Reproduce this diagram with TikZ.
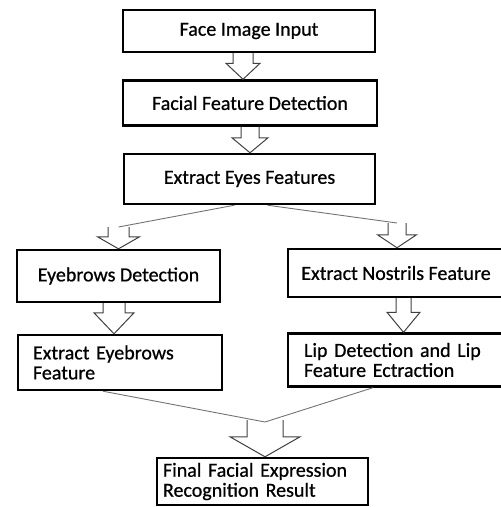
\documentclass[tikz,border=0pt]{standalone}
\usepackage{fontspec}
\setmainfont{Carlito}
\usepackage{tikz}
\usetikzlibrary{calc}

\tikzset{
  box/.style={draw, rectangle, line width=2.4pt, inner sep=0pt,
    font=\fontsize{20}{20}\selectfont\addfontfeature{FakeBold=0.7}},
  leftbox/.style={box, align=left, text width=#1},
  link/.style={draw=black!55, line width=0.9pt},
  hollow/.style args={#1/#2/#3}{draw=black!75, line width=1pt, line join=miter,
    to path={let \p1=(\tikztostart), \p2=(\tikztotarget) in
      (\x1-#1,\y1) -- (\x1-#1,\y2+#3) -- (\x1-#2,\y2+#3) -- (\x1,\y2)
      -- (\x1+#2,\y2+#3) -- (\x1+#1,\y2+#3) -- (\x1+#1,\y1)}}
}

\begin{document}
\begin{tikzpicture}[x=1pt, y=-1pt]
    \useasboundingbox (0, 0) rectangle (501, 507);

    \node (in) [box, minimum width=252, minimum height=42] at (249, 31) {Face Image Input};
    \node (det) [box, minimum width=254, minimum height=45] at (250, 103) {Facial Feature Detection};
    \node (eyes) [box, minimum width=251, minimum height=50] at (249.5, 179) {Extract Eyes Features};

    \node (brow) [box, minimum width=203, minimum height=52] at (118.5, 276) {Eyebrows Detection};
    \node (nose) [box, minimum width=216, minimum height=48] at (396, 273) {Extract Nostrils Feature};

    \node (browfeat) [leftbox=174, minimum width=204, minimum height=55] at (120, 362.5) {
      Extract Eyebrows \\
      Feature
    };
    \node (lip) [leftbox=184, minimum width=216, minimum height=53] at (396, 360) {
      Lip Detection and Lip \\
      Feature Ectraction
    };

    \node (result) [leftbox=199, minimum width=211, minimum height=47] at (262.5, 481.5) {
      Final Facial Expression \\
      Recognition Result
    };

    % split and merge points
    \coordinate (splitL) at (118.5, 227);
    \coordinate (splitR) at (397, 223);
    \coordinate (merge) at (265, 422);

    \draw [hollow=10pt/17pt/16pt] ([xshift=-6pt]in.south) to ([xshift=-6pt]det.north);
    \draw [hollow=9pt/18pt/15pt] (det.south) to (eyes.north);

    \draw [link] ([xshift=-15pt]eyes.south) -- (splitL);
    \draw [link] ([xshift=18pt]eyes.south) -- (splitR);
    \draw [hollow=10.5pt/21pt/12pt] (splitL) to (splitL |- brow.north);
    \draw [hollow=9pt/19.5pt/13pt] (splitR) to (splitR |- nose.north);

    \draw [hollow=11pt/20pt/21pt] ([xshift=-4.5pt]brow.south) to ([xshift=-4.5pt]browfeat.north);
    \draw [hollow=7.5pt/16.5pt/20pt] ([xshift=7.5pt]nose.south) to ([xshift=7.5pt]lip.north);

    \draw [link] ([xshift=-17pt]browfeat.south) -- (merge);
    \draw [link] ([xshift=-23pt]lip.south) -- (merge);
    \draw [hollow=18pt/35pt/20pt] (merge |- 0, 420) to (merge |- result.north);
\end{tikzpicture}
\end{document}
